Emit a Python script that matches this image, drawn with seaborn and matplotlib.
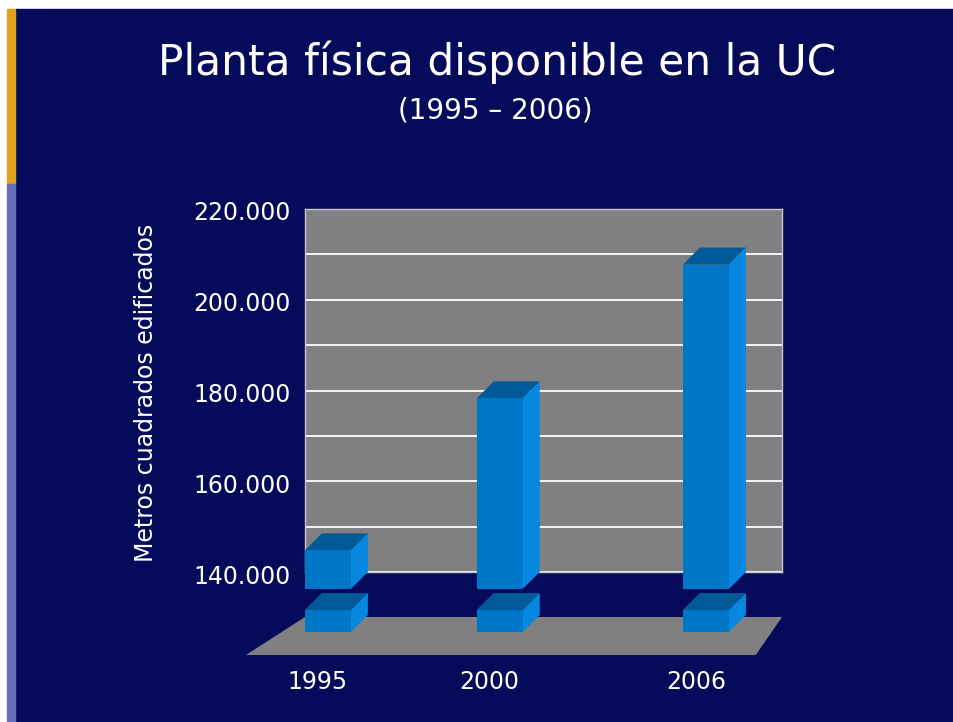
"""Planta física disponible en la UC (1995-2006) as a faux-3D bar chart."""

import matplotlib

matplotlib.use("Agg")
import matplotlib.pyplot as plt
import pandas as pd
import seaborn as sns
from matplotlib.patches import Polygon, Rectangle
from matplotlib.ticker import FuncFormatter, MultipleLocator
from matplotlib.transforms import ScaledTranslation

# --- data -------------------------------------------------------------------
years = [1995, 2000, 2006]
area_m2 = [148500, 182000, 211500]
y_ticks = [140000, 160000, 180000, 200000, 220000]
title = "Planta física disponible en la UC"
subtitle = "(1995 – 2006)"
ylabel = "Metros cuadrados edificados"

# --- style ------------------------------------------------------------------
NAVY = "#050A5A"
GOLD = "#E0A020"
LAVENDER = "#6670B4"
WALL = "#808080"
FRONT = "#0077C6"
SIDE = "#0687E0"
TOP = "#015A97"

W, H = 954, 722
DEPTH = 17  # px, oblique offset of the 3D effect


def fig_box(left, top, right, bottom):
    """Pixel box (from the top-left corner) -> figure fraction rect."""
    return [left / W, 1 - bottom / H, (right - left) / W, (bottom - top) / H]


def extrude(ax, base, cap=None):
    """Turn the seaborn bars of `ax` into oblique 3D columns."""
    x0, y0 = ax.get_xlim()[0], ax.get_ylim()[0]
    px = ax.transData.transform((x0, y0))
    x1, y1 = ax.transData.inverted().transform((px[0] - DEPTH, px[1] - DEPTH))
    dx, dy = x1 - x0, y1 - y0
    bars = [p for p in ax.patches if isinstance(p, Rectangle)]
    for p in bars:
        xl, w, v = p.get_x(), p.get_width(), p.get_height()
        if cap is not None:
            v = min(v, cap)
        xr = xl + w
        top = Polygon([(xl + dx, v + dy), (xr + dx, v + dy), (xr, v), (xl, v)],
                      closed=True, color=TOP, lw=0, zorder=2.9, clip_on=False)
        side = Polygon([(xr + dx, v + dy), (xr, v), (xr, base), (xr + dx, base + dy)],
                       closed=True, color=SIDE, lw=0, zorder=2.9, clip_on=False)
        ax.add_patch(top)
        ax.add_patch(side)
        p.set_x(xl + dx)
        p.set_y(base + dy)
        p.set_height(v - base)
        p.set_linewidth(0)
        p.set_zorder(3)
        p.set_clip_on(False)


df = pd.DataFrame({"year": years, "area": area_m2})

fig = plt.figure(figsize=(W / 100, H / 100), dpi=100, facecolor="white")

# slide background with the coloured stripe on the left
fig.patches.append(Rectangle((15 / W, 0), 1, 1 - 9 / H, transform=fig.transFigure,
                             color=NAVY, zorder=-5))
fig.patches.append(Rectangle((7 / W, 1 - 184 / H), 8 / W, (184 - 9) / H,
                             transform=fig.transFigure, color=GOLD, zorder=-5))
fig.patches.append(Rectangle((7 / W, 0), 8 / W, 1 - 184 / H,
                             transform=fig.transFigure, color=LAVENDER, zorder=-5))

xlim = (years[0] - 1.16, years[-1] + 1.72)

# --- upper section: back wall with the gridlines ------------------------------
ax = fig.add_axes(fig_box(305, 209, 782, 572))
sns.barplot(data=df, x="year", y="area", native_scale=True, width=0.268,
            color=FRONT, saturation=1, errorbar=None, ax=ax)
ax.set_facecolor(WALL)
ax.set_xlim(*xlim)
ax.set_ylim(y_ticks[0], y_ticks[-1])
ax.set_xticks([])
ax.set_xlabel("")
ax.set_ylabel("")
ax.set_yticks(y_ticks)
ax.yaxis.set_minor_locator(MultipleLocator(10000))
ax.yaxis.set_major_formatter(FuncFormatter(lambda v, _: f"{v:,.0f}".replace(",", ".")))
ax.tick_params(axis="y", which="both", length=0, pad=10, labelsize=17,
               labelcolor="white")
ax.set_axisbelow(True)
ax.grid(axis="y", which="both", color="white", lw=1.3)
for s in ax.spines.values():
    s.set_color("#C8C8C8")
    s.set_linewidth(1)
# labels sit a touch below their gridlines in the original
for lab in ax.get_yticklabels():
    lab.set_transform(lab.get_transform() + ScaledTranslation(0, -0.02, fig.dpi_scale_trans))
extrude(ax, base=y_ticks[0])

# --- lower section: broken base of the columns on the floor -----------------
stub_top = 10000
ax_low = fig.add_axes(fig_box(305, 593, 782, 615))
sns.barplot(data=df, x="year", y="area", native_scale=True, width=0.268,
            color=FRONT, saturation=1, errorbar=None, ax=ax_low)
ax_low.set_xlim(*xlim)
ax_low.set_ylim(0, stub_top)
ax_low.axis("off")
extrude(ax_low, base=0, cap=stub_top)
ax_low.add_patch(Polygon([(-0.124, -1.82), (0, -0.09), (1, -0.09), (0.945, -1.82)],
                         closed=True, transform=ax_low.transAxes, color=WALL,
                         lw=0, zorder=1, clip_on=False))

label_shift = ax_low.transData + ScaledTranslation(-0.27, -0.67, fig.dpi_scale_trans)
for yr in years:
    ax_low.text(yr, 0, str(yr), transform=label_shift, ha="center", va="center",
                fontsize=17, color="white")

# --- texts ------------------------------------------------------------------
fig.text(497.5 / W, 1 - 75 / H, title, ha="center", va="baseline",
         fontsize=30.5, color="white")
fig.text(495.5 / W, 1 - 118 / H, subtitle, ha="center", va="baseline",
         fontsize=20, color="white")
fig.text(146 / W, 1 - 392.5 / H, ylabel, rotation=90, ha="center", va="center",
         fontsize=17, color="white")

fig.savefig("out.png", dpi=100, facecolor=fig.get_facecolor())
plt.close(fig)
